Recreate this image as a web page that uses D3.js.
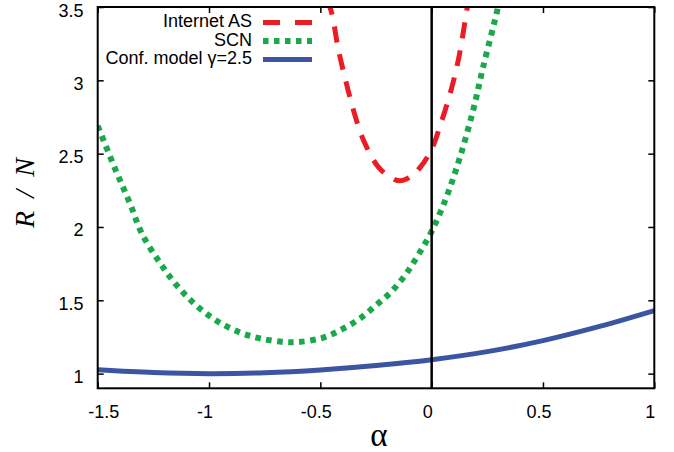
<!doctype html>
<html lang="en">
<head>
  <meta charset="utf-8">
  <title>R / N vs alpha</title>
  <script src="https://cdnjs.cloudflare.com/ajax/libs/d3/7.8.5/d3.min.js"></script>
  <style>
    body { margin: 0; background: #fff; }
    text { font-family: "Liberation Sans", Arial, sans-serif; fill: #000; }
  </style>
</head>
<body>
<script>
  // values
  const xTicks = [-1.5, -1, -0.5, 0, 0.5, 1]
  const yTicks = [1, 1.5, 2, 2.5, 3, 3.5]

  const internetAS = [
    [-0.47, 3.55], [-0.449, 3.46], [-0.419, 3.21], [-0.389, 3.016], [-0.352, 2.80],
    [-0.307, 2.595], [-0.24, 2.41], [-0.18, 2.335], [-0.142, 2.315], [-0.097, 2.34],
    [-0.05, 2.41], [0, 2.53], [0.04, 2.70], [0.083, 2.91], [0.12, 3.14],
    [0.158, 3.48], [0.165, 3.55]
  ]
  const scn = [
    [-1.5, 2.69], [-1.42, 2.39], [-1.355, 2.16], [-1.3, 1.95], [-1.22, 1.755],
    [-1.16, 1.63], [-1.1, 1.527], [-1.026, 1.425], [-0.95, 1.346], [-0.86, 1.28],
    [-0.77, 1.24], [-0.63, 1.214], [-0.49, 1.244], [-0.4, 1.305], [-0.32, 1.378],
    [-0.247, 1.47], [-0.18, 1.56], [-0.113, 1.685], [-0.06, 1.81], [0, 1.97],
    [0.068, 2.21], [0.128, 2.48], [0.187, 2.80], [0.232, 3.095], [0.292, 3.46], [0.3, 3.52]
  ]
  const confModel = [
    [-1.5, 1.027], [-1.25, 1.008], [-1, 1.0], [-0.75, 1.006], [-0.5, 1.025],
    [-0.25, 1.055], [0, 1.095], [0.25, 1.15], [0.5, 1.225], [0.75, 1.32], [1, 1.43]
  ]

  const series = [
    { name: "Internet AS", data: internetAS, color: "#ec1c24", width: 5, dash: "16,12" },
    { name: "SCN", data: scn, color: "#19a84a", width: 6, dash: "5.5,5.5" },
    { name: "Conf. model \u03b3=2.5", data: confModel, color: "#3b55a3", width: 5, dash: null }
  ]

  const W = 674, H = 452
  const m = { left: 97.7, right: 654.3, top: 7, bottom: 388.3 }

  let svg = d3.select("body").append("svg")
    .attr("width", W)
    .attr("height", H)

  let x = d3.scaleLinear().domain([-1.5, 1]).range([m.left, m.right])
  let y = d3.scaleLinear().domain([0.9, 3.5]).range([m.bottom, m.top])

  svg.append("clipPath").attr("id", "plotclip")
    .append("rect")
    .attr("x", m.left).attr("y", m.top)
    .attr("width", m.right - m.left).attr("height", m.bottom - m.top)

  // curves
  let line = d3.line()
    .x(d => x(d[0]))
    .y(d => y(d[1]))
    .curve(d3.curveCatmullRom.alpha(0.5))

  let curves = svg.append("g").attr("clip-path", "url(#plotclip)")
  series.forEach(s => {
    curves.append("path")
      .attr("d", line(s.data))
      .attr("fill", "none")
      .attr("stroke", s.color)
      .attr("stroke-width", s.width)
      .attr("stroke-dasharray", s.dash)
  })

  // vertical line at alpha = 0
  svg.append("line")
    .attr("x1", x(0)).attr("x2", x(0))
    .attr("y1", y(0.9)).attr("y2", y(3.5))
    .attr("stroke", "#000").attr("stroke-width", 2.5)

  // axes, gnuplot style: ticks inside on all four sides
  let tick = 6
  let axB = d3.axisBottom(x).tickValues(xTicks).tickSizeInner(-tick).tickSizeOuter(0).tickFormat("")
  let axT = d3.axisTop(x).tickValues(xTicks).tickSizeInner(-tick).tickSizeOuter(0).tickFormat("")
  let axL = d3.axisLeft(y).tickValues(yTicks).tickSizeInner(-tick).tickSizeOuter(0).tickFormat("")
  let axR = d3.axisRight(y).tickValues(yTicks).tickSizeInner(-tick).tickSizeOuter(0).tickFormat("")

  svg.append("g").attr("transform", `translate(0,${m.bottom})`).call(axB)
  svg.append("g").attr("transform", `translate(0,${m.top})`).call(axT)
  svg.append("g").attr("transform", `translate(${m.left},0)`).call(axL)
  svg.append("g").attr("transform", `translate(${m.right},0)`).call(axR)
  svg.selectAll(".domain").remove()
  svg.selectAll(".tick line").attr("stroke", "#000").attr("stroke-width", 1.5)

  svg.append("rect")
    .attr("x", m.left).attr("y", m.top)
    .attr("width", m.right - m.left).attr("height", m.bottom - m.top)
    .attr("fill", "none").attr("stroke", "#000").attr("stroke-width", 2)

  // tick labels
  svg.append("g").selectAll("text")
    .data(xTicks)
    .enter().append("text")
    .attr("x", (d, i) => x(d) + (i == 0 ? 6 : -4))
    .attr("y", 418)
    .attr("text-anchor", "middle")
    .style("font-size", "18px")
    .text(d => d3.format("")(d).replace("\u2212", "-"))

  svg.append("g").selectAll("text")
    .data(yTicks)
    .enter().append("text")
    .attr("x", 83.5)
    .attr("y", d => y(d) + 9.5)
    .attr("text-anchor", "end")
    .style("font-size", "18px")
    .text(d => d)

  // axis titles
  svg.append("text")
    .attr("x", 379).attr("y", 446)
    .attr("text-anchor", "middle")
    .style("font-family", "'Liberation Serif', serif")
    .style("font-size", "33px")
    .text("\u03b1")

  svg.append("text")
    .attr("transform", "translate(34,193) rotate(-90)")
    .attr("text-anchor", "middle")
    .attr("textLength", 70)
    .attr("lengthAdjust", "spacing")
    .style("font-family", "'Liberation Serif', serif")
    .style("font-style", "italic")
    .style("font-size", "28px")
    .text("R / N")

  // legend
  let legend = svg.append("g").selectAll("g")
    .data(series)
    .enter().append("g")
    .attr("transform", (d, i) => `translate(0,${27 + i * 18.5})`)

  legend.append("text")
    .attr("x", 252).attr("y", 0)
    .attr("text-anchor", "end")
    .style("font-size", "18px")
    .text(d => d.name)

  legend.append("line")
    .attr("x1", 263).attr("x2", 312)
    .attr("y1", -4.5).attr("y2", -4.5)
    .attr("stroke", d => d.color)
    .attr("stroke-width", d => d.width)
    .attr("stroke-dasharray", d => d.name == "Internet AS" ? "17,15" : d.dash)
</script>
</body>
</html>
